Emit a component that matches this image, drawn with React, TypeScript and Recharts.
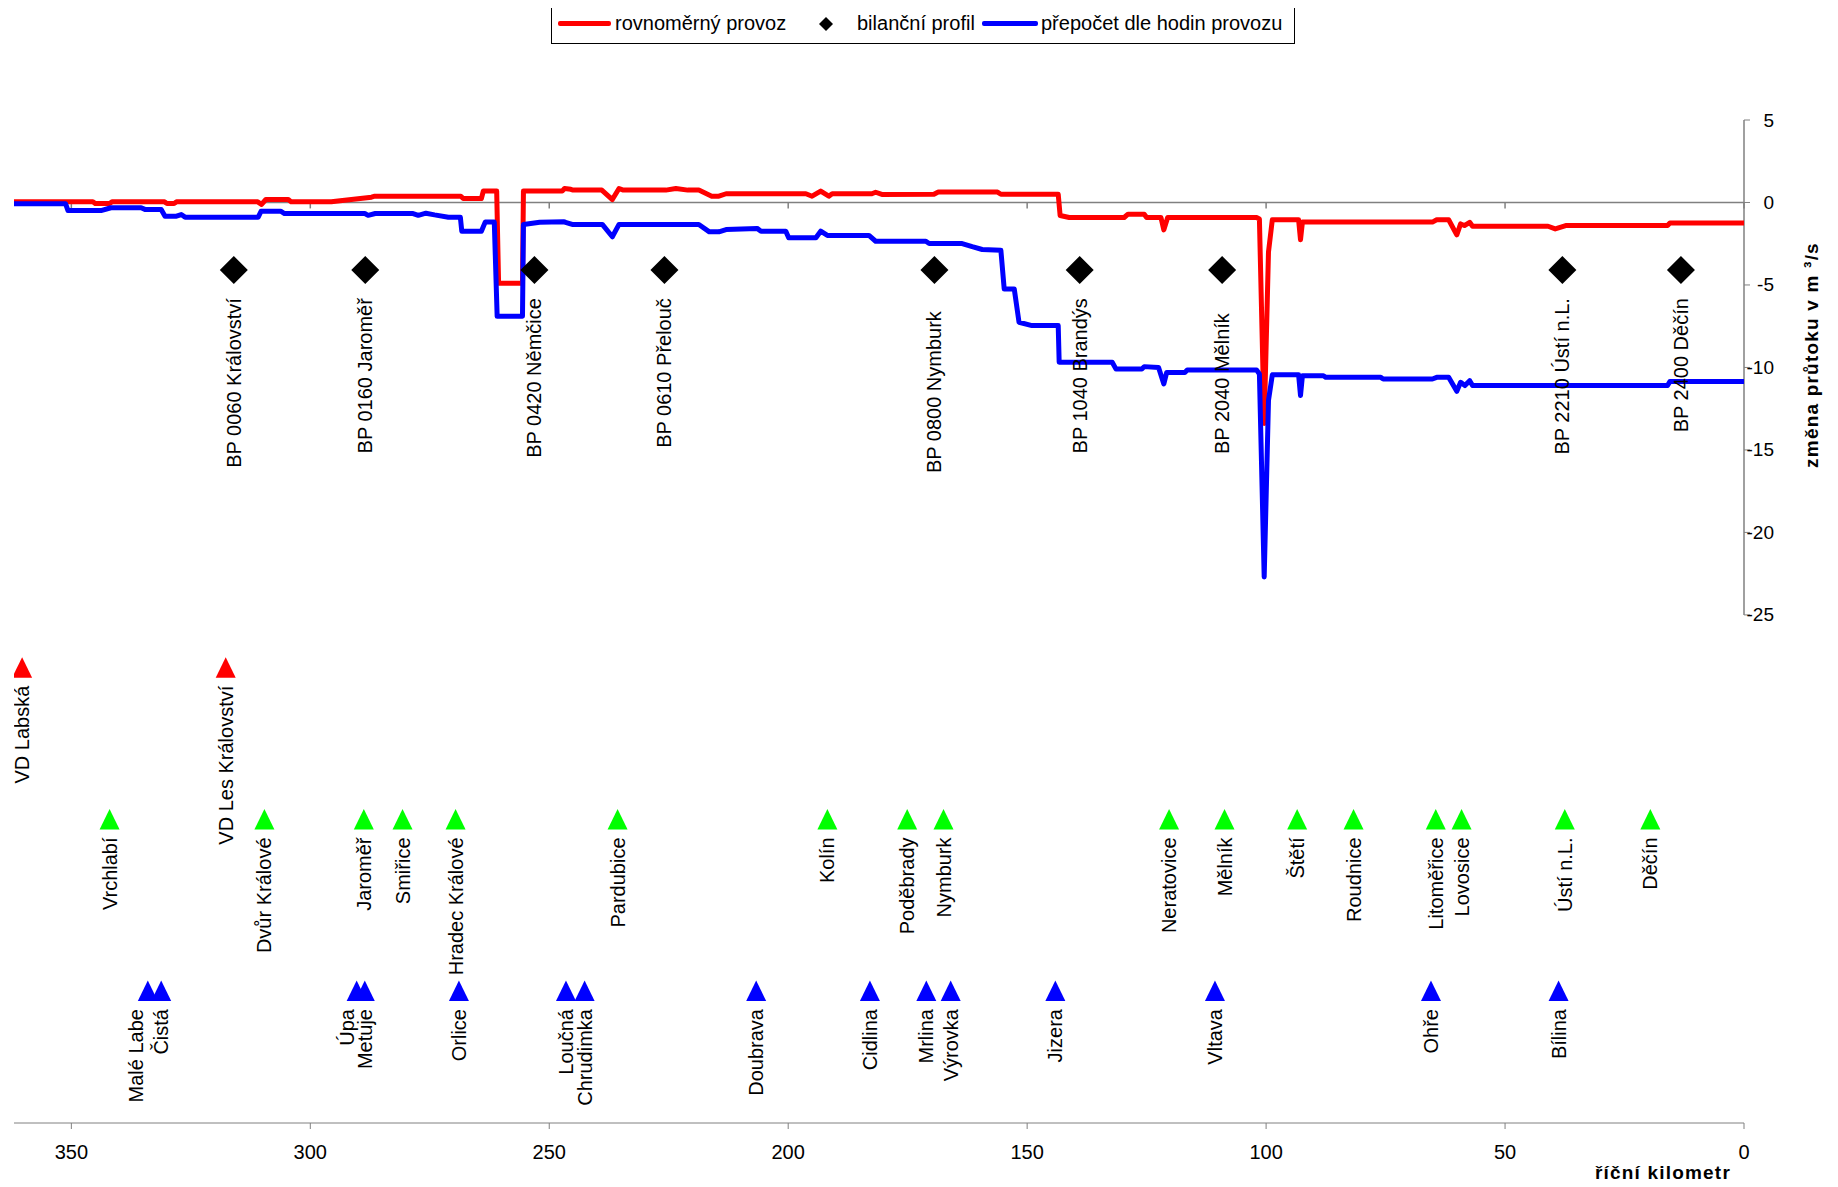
import React from 'react';
import { ComposedChart, Line, Scatter, XAxis, YAxis, ReferenceLine, Label } from 'recharts';

const FONT = '"Liberation Sans", Arial, sans-serif';

// [river km, change of flow m3/s] – "rovnoměrný provoz"
const redProfile: [number, number][] = [
  [362, 0.05], [345.5, 0.05], [345, -0.06], [342, -0.06], [341.5, 0.04], [330.5, 0.04], [330, -0.06],
  [328.5, -0.06], [328, 0.04], [311, 0.04], [310.2, -0.12], [309.3, 0.18], [304.6, 0.18], [304, 0.04],
  [295.6, 0.04], [287.2, 0.32], [286.5, 0.38], [268.5, 0.38], [268, 0.24], [264.2, 0.24], [263.8, 0.69],
  [261, 0.69], [260.6, -4.9], [255.6, -4.9], [255.4, 0.69], [247.3, 0.69], [246.8, 0.85], [245.5, 0.8],
  [245, 0.75], [239, 0.75], [236.8, 0.18], [235.4, 0.85], [234.5, 0.75], [225.6, 0.75], [223.5, 0.85],
  [221, 0.75], [218.7, 0.75], [216, 0.38], [214.5, 0.38], [213, 0.53], [196.3, 0.53], [195, 0.38],
  [193.2, 0.69], [191.5, 0.38], [190.8, 0.53], [182.5, 0.53], [181.7, 0.62], [180.4, 0.49], [169.5, 0.5],
  [168.6, 0.63], [156.2, 0.63], [155.5, 0.5], [143.5, 0.5], [143.1, -0.79], [141.2, -0.91], [129.7, -0.91],
  [128.9, -0.71], [125.5, -0.71], [125, -0.91], [122, -0.91], [121.4, -1.66], [120.6, -0.91], [102, -0.91],
  [101.4, -1.0], [100.4, -13.4], [99.5, -3], [98.7, -1.05], [93.2, -1.05], [92.8, -2.26], [92.4, -1.19],
  [65.2, -1.19], [64.3, -1.05], [61.8, -1.05], [60.1, -1.96], [59.3, -1.3], [58.5, -1.4], [57.4, -1.2],
  [56.8, -1.44], [41, -1.44], [39.5, -1.6], [37.3, -1.4], [16, -1.4], [15.5, -1.25], [0, -1.25],
];

// "přepočet dle hodin provozu"
const blueProfile: [number, number][] = [
  [362, -0.08], [351.2, -0.08], [350.7, -0.49], [343.8, -0.49], [341.7, -0.32], [335.4, -0.32],
  [334.6, -0.42], [331.2, -0.42], [330.4, -0.83], [328, -0.83], [327, -0.73], [326.2, -0.89],
  [310.9, -0.89], [310.3, -0.53], [306.2, -0.53], [305.4, -0.67], [288.6, -0.67], [287.9, -0.78],
  [286.4, -0.67], [278.5, -0.67], [277.4, -0.78], [275.8, -0.65], [274, -0.75], [271.1, -0.89],
  [268.6, -0.89], [268.3, -1.74], [264.2, -1.74], [263.4, -1.19], [261.5, -1.19], [260.9, -6.9],
  [255.6, -6.9], [255.4, -1.33], [252, -1.2], [247, -1.17], [246.6, -1.2], [245.2, -1.33], [238.9, -1.33],
  [236.8, -2.08], [235.4, -1.33], [218.7, -1.33], [216.5, -1.78], [214.5, -1.78], [213, -1.64],
  [206.5, -1.57], [205.7, -1.74], [200.5, -1.74], [199.9, -2.14], [194.2, -2.14], [193.2, -1.74],
  [191.8, -2.0], [183.1, -2.0], [181.7, -2.35], [171.2, -2.35], [170.5, -2.49], [163.6, -2.49],
  [161.5, -2.68], [159.4, -2.85], [155.5, -2.89], [154.8, -5.24], [152.7, -5.24], [151.7, -7.26],
  [149, -7.46], [143.5, -7.46], [143.3, -9.68], [132.2, -9.68], [131.4, -10.1], [126, -10.1],
  [125.5, -9.95], [122.5, -10.0], [121.4, -11.0], [120.8, -10.3], [117, -10.3], [116.5, -10.15],
  [102, -10.15], [101.4, -10.4], [100.4, -22.7], [99.5, -12], [98.7, -10.45], [93.2, -10.45],
  [92.8, -11.7], [92.4, -10.5], [88, -10.5], [87.5, -10.6], [76, -10.6], [75.5, -10.7], [65.2, -10.7],
  [64.3, -10.6], [61.8, -10.6], [60.1, -11.45], [59.3, -10.9], [58.4, -11.1], [57.4, -10.8],
  [56.8, -11.1], [16, -11.1], [15.5, -10.85], [0, -10.85],
];

const balanceKm = [316.0, 288.5, 253.1, 225.9, 169.4, 139.0, 109.2, 38.0, 13.2];
const balanceNames = ['BP 0060 Království', 'BP 0160 Jaroměř', 'BP 0420 Němčice', 'BP 0610 Přelouč',
  'BP 0800 Nymburk', 'BP 1040 Brandýs', 'BP 2040 Mělník', 'BP 2210 Ústí n.L.', 'BP 2400 Děčín'];
const balanceLevel = -4.1;

const damKm = [360.3, 317.7];
const damNames = ['VD Labská', 'VD Les Království'];
const damLevel = -28.2;

const townKm = [342.0, 309.6, 288.8, 280.7, 269.6, 235.7, 191.8, 175.1, 167.5, 120.3, 108.7, 93.5, 81.7, 64.5, 59.1, 37.5, 19.6];
const townNames = ['Vrchlabí', 'Dvůr Králové', 'Jaroměř', 'Smiřice', 'Hradec Králové', 'Pardubice', 'Kolín',
  'Poděbrady', 'Nymburk', 'Neratovice', 'Mělník', 'Štětí', 'Roudnice', 'Litoměřice', 'Lovosice', 'Ústí n.L.', 'Děčín'];
const townLevel = -37.4;

const riverKm = [334.0, 331.2, 290.3, 288.6, 268.9, 246.5, 242.6, 206.7, 182.9, 171.1, 166.0, 144.1, 110.7, 65.5, 38.8];
const riverNames = ['Malé Labe', 'Čistá', 'Úpa', 'Metuje', 'Orlice', 'Loučná', 'Chrudimka', 'Doubrava',
  'Cidlina', 'Mrlina', 'Výrovka', 'Jizera', 'Vltava', 'Ohře', 'Bílina'];
const riverLevel = -47.8;

const xTicks = [0, 50, 100, 150, 200, 250, 300, 350];
const yTicks = [5, 0, -5, -10, -15, -20, -25];
const xDomain: [number, number] = [0, 362];
const yDomain: [number, number] = [-55.8, 5];

// manual label nudges (layout only, in px)
const labelNudge: Record<string, [number, number]> = {
  'Malé Labe': [-12, 0],
  'Úpa': [-10, 0],
  'BP 0800 Nymburk': [0, 13],
  'BP 2040 Mělník': [0, 15],
};

const toLine = (arr: [number, number][]) => arr.map(([km, v]) => ({ km, v }));
const toPoints = (kms: number[], names: string[], level: number) =>
  kms.map((km, i) => ({ km, v: level, name: names[i] }));

const redData = toLine(redProfile);
const blueData = toLine(blueProfile);
const balanceData = toPoints(balanceKm, balanceNames, balanceLevel);
const damData = toPoints(damKm, damNames, damLevel);
const townData = toPoints(townKm, townNames, townLevel);
const riverData = toPoints(riverKm, riverNames, riverLevel);

const AXIS = '#808080';

const rotatedLabel = (x0: number, y0: number, text: string) => {
  const [dx, dy] = labelNudge[text] || [0, 0];
  const x = x0 + dx;
  const y = y0 + dy;
  return (
    <text x={x} y={y} transform={`rotate(-90 ${x} ${y})`} textAnchor="end" dominantBaseline="central"
      fontSize={20} fontFamily={FONT} fill="#000">{text}</text>
  );
};

const triangleShape = (color: string) => (props: any) => {
  const { cx, cy, payload } = props;
  if (cx == null || cy == null) return <g />;
  return (
    <g>
      <polygon points={`${cx},${cy - 10.5} ${cx + 10},${cy + 10} ${cx - 10},${cy + 10}`} fill={color} />
      {rotatedLabel(cx, cy + 18, payload.name)}
    </g>
  );
};

const diamondShape = (props: any) => {
  const { cx, cy, payload } = props;
  if (cx == null || cy == null) return <g />;
  const r = 14;
  return (
    <g>
      <polygon points={`${cx},${cy - r} ${cx + r},${cy} ${cx},${cy + r} ${cx - r},${cy}`} fill="#000" />
      {rotatedLabel(cx, cy + 28, payload.name)}
    </g>
  );
};

const renderXTick = (p: any) => (
  <text x={p.x} y={p.y + 23} textAnchor="middle" dominantBaseline="central" fontSize={20}
    fontFamily={FONT} fill="#000">{p.payload.value}</text>
);

const renderYTick = (p: any) => (
  <text x={p.x + 24} y={p.y} textAnchor="end" dominantBaseline="central" fontSize={19}
    fontFamily={FONT} fill="#000">{p.payload.value}</text>
);

const XTitle = () => (
  <text x={1731} y={1172} textAnchor="end" dominantBaseline="central" fontSize={19} fontWeight="bold"
    letterSpacing={1.2} fontFamily={FONT} fill="#000">říční kilometr</text>
);

const YTitle = () => (
  <text x={1811} y={355} transform="rotate(-90 1811 355)" textAnchor="middle" dominantBaseline="central"
    fontSize={19} fontWeight="bold" letterSpacing={1.2} fontFamily={FONT} fill="#000">změna průtoku v m ³/s</text>
);

const LegendBox = () => (
  <div style={{ position: 'absolute', left: 551, top: 4, width: 744, height: 40, border: '1px solid #000',
    boxSizing: 'border-box', background: '#fff', fontFamily: FONT, fontSize: 20, color: '#000' }}>
    <div style={{ position: 'absolute', left: 6, top: 16, width: 53, height: 5, background: '#ff0000', borderRadius: 2 }} />
    <span style={{ position: 'absolute', left: 63, top: 5, lineHeight: '26px', whiteSpace: 'nowrap' }}>rovnoměrný provoz</span>
    <svg style={{ position: 'absolute', left: 267, top: 12 }} width={14} height={14}>
      <polygon points="7,0 14,7 7,14 0,7" fill="#000" />
    </svg>
    <span style={{ position: 'absolute', left: 305, top: 5, lineHeight: '26px', whiteSpace: 'nowrap' }}>bilanční profil</span>
    <div style={{ position: 'absolute', left: 430, top: 16, width: 56, height: 5, background: '#0000ff', borderRadius: 2 }} />
    <span style={{ position: 'absolute', left: 489, top: 5, lineHeight: '26px', whiteSpace: 'nowrap' }}>přepočet dle hodin provozu</span>
  </div>
);

export default function App() {
  return (
    <div style={{ position: 'relative', width: 1838, height: 1187, margin: '-8px 0 -8px -8px', background: '#fff', overflow: 'hidden' }}>
      <ComposedChart width={1838} height={1187} margin={{ top: 120, right: 0, bottom: 0, left: 14 }}>
        <XAxis type="number" dataKey="km" domain={xDomain} reversed ticks={xTicks} interval={0}
          allowDataOverflow height={64} tickSize={6} tickMargin={0} stroke={AXIS}
          axisLine={{ stroke: AXIS }} tickLine={{ stroke: AXIS }} tick={renderXTick}>
          <Label content={XTitle} />
        </XAxis>
        <YAxis type="number" dataKey="v" orientation="right" domain={yDomain} ticks={yTicks} interval={0}
          allowDataOverflow width={94} tickSize={6} tickMargin={0} axisLine={false}
          tickLine={{ stroke: AXIS }} tick={renderYTick}>
          <Label content={YTitle} />
        </YAxis>
        <ReferenceLine y={0} stroke={AXIS} strokeWidth={1.5} />
        {xTicks.map((k) => (
          <ReferenceLine key={'t' + k} segment={[{ x: k, y: 0 }, { x: k, y: -0.36 }]} stroke={AXIS} strokeWidth={1.5} />
        ))}
        <ReferenceLine segment={[{ x: 0, y: 5 }, { x: 0, y: -25 }]} stroke={AXIS} strokeWidth={1.5} />
        <Line data={redData} dataKey="v" type="linear" stroke="#ff0000" strokeWidth={5} dot={false}
          strokeLinejoin="round" isAnimationActive={false} />
        <Line data={blueData} dataKey="v" type="linear" stroke="#0000ff" strokeWidth={5} dot={false}
          strokeLinejoin="round" isAnimationActive={false} />
        <Scatter data={balanceData} dataKey="v" shape={diamondShape} isAnimationActive={false} />
        <Scatter data={damData} dataKey="v" shape={triangleShape('#ff0000')} isAnimationActive={false} />
        <Scatter data={townData} dataKey="v" shape={triangleShape('#00ff00')} isAnimationActive={false} />
        <Scatter data={riverData} dataKey="v" shape={triangleShape('#0000ff')} isAnimationActive={false} />
      </ComposedChart>
      <LegendBox />
    </div>
  );
}
